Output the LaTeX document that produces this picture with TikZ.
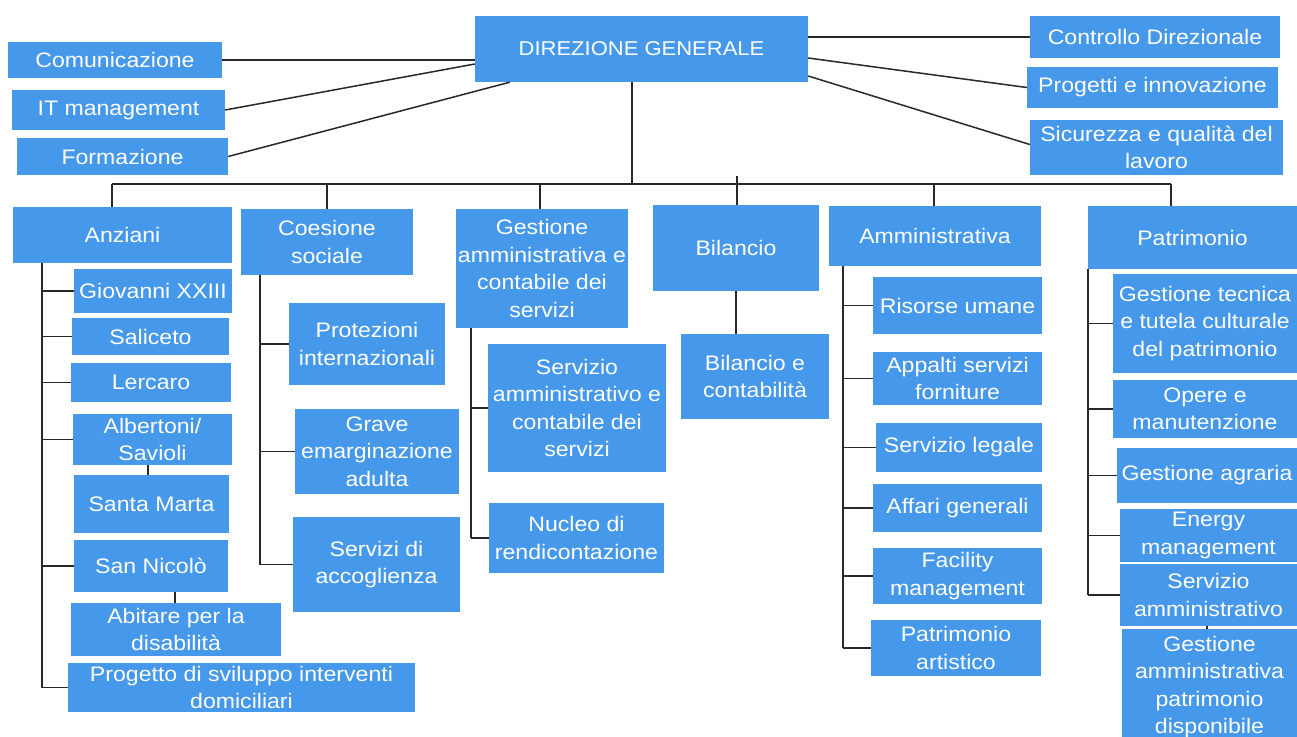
\documentclass[tikz,border=0pt]{standalone}
\usepackage{fontspec}
\setmainfont[FakeStretch=1.1]{Liberation Sans}
\definecolor{boxblue}{RGB}{70,152,234}
\definecolor{linegray}{RGB}{40,40,40}
\newcommand\bx[7][]{\node[box, #1, minimum width={(#5-#3)*1pt}, minimum height={(#6-#4)*1pt}] (#2) at ({(#3+#5)/2},{(#4+#6)/2}) {#7};}
\begin{document}
\begin{tikzpicture}[x=1pt,y=-1pt,
  box/.style={fill=boxblue, text=white, inner sep=0pt, align=center, font=\fontsize{21}{27.5}\selectfont},
  conn/.style={draw=linegray, line width=1.5pt}]
\useasboundingbox (0,0) rectangle (1297,736);
\fill[white] (0,0) rectangle (1297,736);
% top level
\bx[font=\fontsize{20}{26}\selectfont]{dg}{475}{16}{808}{82}{DIREZIONE GENERALE}
\bx{com}{8}{42}{222}{78}{Comunicazione}
\bx{it}{12}{90}{225}{130}{IT management}
\bx{form}{17}{138}{228}{175}{Formazione}
\bx{ctrl}{1030}{16}{1280}{58}{Controllo Direzionale}
\bx{prog}{1027}{67}{1278}{108}{Progetti e innovazione}
\bx{sic}{1030}{120}{1283}{175}{Sicurezza e qualità del\\lavoro}
% second level
\bx{anz}{13}{207}{232}{263}{Anziani}
\bx{coe}{241}{209}{413}{275}{Coesione\\sociale}
\bx{gest}{456}{209}{628}{328}{Gestione\\amministrativa e\\contabile dei\\servizi}
\bx{bil}{653}{205}{819}{291}{Bilancio}
\bx{amm}{829}{206}{1041}{266}{Amministrativa}
\bx{pat}{1088}{206}{1297}{269}{Patrimonio}
% Anziani
\bx{gio}{74}{269}{232}{313}{Giovanni XXIII}
\bx{sal}{72}{318}{229}{355}{Saliceto}
\bx{ler}{71}{363}{231}{402}{Lercaro}
\bx{alb}{73}{414}{232}{465}{Albertoni/\\Savioli}
\bx{sm}{74}{475}{229}{533}{Santa Marta}
\bx{sn}{74}{540}{228}{592}{San Nicolò}
\bx{abi}{71}{603}{281}{656}{Abitare per la\\disabilità}
\bx{prg}{68}{663}{415}{712}{Progetto di sviluppo interventi\\domiciliari}
% Coesione
\bx{pro}{289}{303}{445}{385}{Protezioni\\internazionali}
\bx{gra}{295}{409}{459}{494}{Grave\\emarginazione\\adulta}
\bx{acc}{293}{517}{460}{612}{Servizi di\\accoglienza}
% Gestione
\bx{sac}{488}{344}{666}{472}{Servizio\\amministrativo e\\contabile dei\\servizi}
\bx{nuc}{489}{503}{664}{573}{Nucleo di\\rendicontazione}
% Bilancio
\bx{bilc}{681}{334}{829}{419}{Bilancio e\\contabilità}
% Amministrativa
\bx{ris}{873}{277}{1042}{334}{Risorse umane}
\bx{app}{873}{352}{1042}{405}{Appalti servizi\\forniture}
\bx{leg}{876}{423}{1042}{472}{Servizio legale}
\bx{aff}{873}{484}{1042}{532}{Affari generali}
\bx{fac}{873}{548}{1042}{604}{Facility\\management}
\bx{par}{871}{620}{1041}{676}{Patrimonio\\artistico}
% Patrimonio
\bx{gtc}{1113}{274}{1297}{373}{Gestione tecnica\\e tutela culturale\\del patrimonio}
\bx{ope}{1113}{380}{1297}{438}{Opere e\\manutenzione}
\bx{agr}{1117}{448}{1297}{503}{Gestione agraria}
\bx{ene}{1120}{509}{1297}{562}{Energy\\management}
\bx{sam}{1120}{564}{1297}{626}{Servizio\\amministrativo}
\bx{gap}{1122}{629}{1297}{745}{Gestione\\amministrativa\\patrimonio\\disponibile}
% top connectors
\draw[conn] (com.east) -- (dg.west |- com.east);
\draw[conn] (it.east) -- ([yshift=-15pt]dg.west);
\draw[conn] (form.east) -- ([xshift=35pt]dg.south west);
\draw[conn] (dg.east |- ctrl.west) -- (ctrl.west);
\draw[conn] ([yshift=-9pt]dg.east) -- (prog.west);
\draw[conn] ([yshift=-27pt]dg.east) -- ([yshift=3pt]sic.west);
% bus
\coordinate (b1) at (112,184);
\coordinate (b2) at (327,184);
\coordinate (b3) at (540,184);
\coordinate (b4t) at (737,176);
\coordinate (b5) at (934,184);
\coordinate (b6) at (1171,184);
\coordinate (bdg) at (632,184);
\draw[conn] (b1) -- (b6);
\draw[conn] (dg.south -| bdg) -- (bdg);
\draw[conn] (b1) -- (b1 |- anz.north);
\draw[conn] (b2) -- (b2 |- coe.north);
\draw[conn] (b3) -- (b3 |- gest.north);
\draw[conn] (b4t) -- (b4t |- bil.north);
\draw[conn] (b5) -- (b5 |- amm.north);
\draw[conn] (b6) -- (b6 |- pat.north);
% Anziani
\coordinate (av) at (42,0);
\draw[conn] (anz.south -| av) -- (av |- prg.west);
\foreach \n in {gio,sal,ler,alb,sn,prg} \draw[conn] (av |- \n.west) -- (\n.west);
\coordinate (xa) at (148,0);
\draw[conn] (alb.south -| xa) -- (sm.north -| xa);
\coordinate (xs) at (175,0);
\draw[conn] (sn.south -| xs) -- (abi.north -| xs);
% Coesione
\coordinate (cv) at (260,0);
\draw[conn] (coe.south -| cv) -- (cv |- acc.west);
\foreach \n in {pro,gra,acc} \draw[conn] (cv |- \n.west) -- (\n.west);
% Gestione
\coordinate (gv) at (471,0);
\draw[conn] (gest.south -| gv) -- (gv |- nuc.west);
\foreach \n in {sac,nuc} \draw[conn] (gv |- \n.west) -- (\n.west);
% Bilancio
\coordinate (xb) at (736,0);
\draw[conn] (bil.south -| xb) -- (bilc.north -| xb);
% Amministrativa
\coordinate (mv) at (843,0);
\draw[conn] (amm.south -| mv) -- (mv |- par.west);
\foreach \n in {ris,app,leg,aff,fac,par} \draw[conn] (mv |- \n.west) -- (\n.west);
% Patrimonio
\coordinate (pv) at (1088,0);
\draw[conn] (pat.south -| pv) -- (pv |- sam.west);
\foreach \n in {gtc,ope,agr,ene,sam} \draw[conn] (pv |- \n.west) -- (\n.west);
\coordinate (xg) at (1207,0);
\draw[conn] (sam.south -| xg) -- (gap.north -| xg);
\end{tikzpicture}
\end{document}
